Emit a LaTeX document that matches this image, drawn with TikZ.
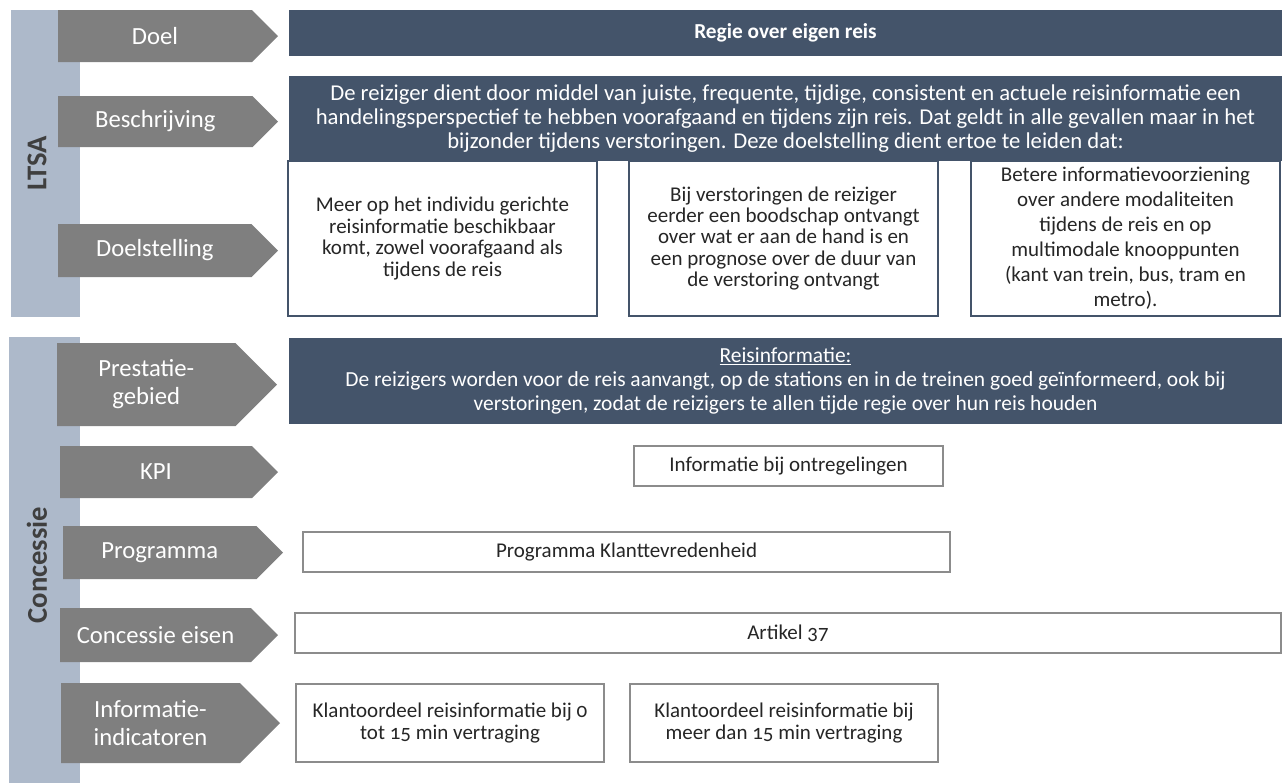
\documentclass[tikz,border=0pt]{standalone}
\usepackage{fontspec}
\setmainfont{Carlito}[Numbers=OldStyle]
\definecolor{darkblue}{HTML}{44546A}
\definecolor{arrowgray}{HTML}{7F7F7F}
\definecolor{sidebar}{HTML}{ADB9CA}
\definecolor{labeltext}{HTML}{3F3F3F}
\definecolor{boxtext}{HTML}{262626}
\definecolor{graybord}{HTML}{8C8C8C}
\tikzset{
  arrowlabel/.style={text=white, font=\fontsize{18.5}{21}\selectfont, align=center, inner sep=0pt},
  sidelabel/.style={text=labeltext, font=\bfseries\fontsize{21.5}{24}\selectfont, rotate=90, inner sep=0pt},
  darkbox/.style={fill=darkblue, text=white, align=center, inner sep=0pt, outer sep=0pt,
    font=\fontsize{15.75}{18}\selectfont},
  ltsabox/.style={draw=darkblue, line width=1.5pt, fill=white, text=boxtext, align=center, inner sep=0pt,
    font=\fontsize{15.75}{16.1}\selectfont},
  graybox/.style={draw=graybord, line width=1.5pt, fill=white, text=boxtext, align=center, inner sep=0pt,
    font=\fontsize{15.75}{16.5}\selectfont},
}
\newcommand\chev[6]{%
  \pgfmathsetmacro\chevd{(#5-#3)/2}%
  \fill[arrowgray] (#2,#3) -- ({#4-\chevd},#3) -- (#4,{(#3+#5)/2}) -- ({#4-\chevd},#5) -- (#2,#5) -- cycle;
  \node[arrowlabel] (#1) at ({(#2+#4-\chevd)/2},{(#3+#5)/2}) {#6};}
\newcommand\boxnode[7]{%
  \node[#2, minimum width={(#5-#3)*0.75pt}, minimum height={(#6-#4)*0.75pt}] (#1) at ({(#3+#5)/2},{(#4+#6)/2}) {#7};}
\begin{document}
\begin{tikzpicture}[x=0.75pt,y=-0.75pt]
\useasboundingbox (0,0) rectangle (1284,783);
% side bars
\fill[sidebar] (11,10) rectangle (80,317);
\fill[sidebar] (9,337) rectangle (80,783);
\node[sidelabel] (ltsa) at (37,163) {LTSA};
\node[sidelabel] (concessie) at (37,565) {Concessie};
% chevrons
\chev{doel}{58}{10}{278}{62}{Doel}
\chev{beschr}{58}{96}{278}{147}{Beschrijving}
\chev{doelst}{58}{224}{278}{277}{Doelstelling}
\chev{prest}{57}{343}{277}{426}{Prestatie-\\gebied}
\chev{kpi}{60}{446}{278}{498}{KPI}
\chev{progr}{63}{526}{283}{579}{Programma}
\chev{ceisen}{60}{608}{278}{662}{Concessie eisen}
\chev{infoind}{61}{683}{280}{763}{Informatie-\\indicatoren}
% LTSA boxes
\boxnode{regie}{darkbox,font=\bfseries\fontsize{16}{18}\selectfont}{289}{10}{1282}{56}{Regie over eigen reis}
\boxnode{beschrtxt}{darkbox,font=\fontsize{17}{18}\selectfont}{289}{76}{1282}{161}{De reiziger dient door middel van juiste, frequente, tijdige, consistent en actuele reisinformatie een\\handelingsperspectief te hebben voorafgaand en tijdens zijn reis. Dat geldt in alle gevallen maar in het\\bijzonder tijdens verstoringen. Deze doelstelling dient ertoe te leiden dat:}
\boxnode{ds1}{ltsabox}{288}{161}{597}{316}{Meer op het individu gerichte\\reisinformatie beschikbaar\\komt, zowel voorafgaand als\\tijdens de reis}
\boxnode{ds2}{ltsabox}{629}{161}{938}{316}{Bij verstoringen de reiziger\\eerder een boodschap ontvangt\\over wat er aan de hand is en\\een prognose over de duur van\\de verstoring ontvangt}
\boxnode{ds3}{ltsabox,font=\fontsize{15.75}{18.75}\selectfont}{971}{161}{1280}{316}{Betere informatievoorziening\\over andere modaliteiten\\tijdens de reis en op\\multimodale knooppunten\\(kant van trein, bus, tram en\\metro).}
% Concessie boxes
\boxnode{prestbox}{darkbox,font=\fontsize{16.1}{18}\selectfont}{289}{338}{1282}{424}{\underline{Reisinformatie:}\\De reizigers worden voor de reis aanvangt, op de stations en in de treinen goed geïnformeerd, ook bij\\verstoringen, zodat de reizigers te allen tijde regie over hun reis houden}
\boxnode{kpibox}{graybox}{634}{446}{943}{486}{Informatie bij ontregelingen}
\boxnode{progbox}{graybox}{303}{532}{950}{572}{Programma Klanttevredenheid}
\boxnode{artbox}{graybox}{295}{613}{1281}{653}{Artikel 37}
\boxnode{kl1}{graybox}{296}{684}{604}{762}{Klantoordeel reisinformatie bij 0\\tot 15 min vertraging}
\boxnode{kl2}{graybox}{630}{684}{938}{762}{Klantoordeel reisinformatie bij\\meer dan 15 min vertraging}
\end{tikzpicture}
\end{document}
